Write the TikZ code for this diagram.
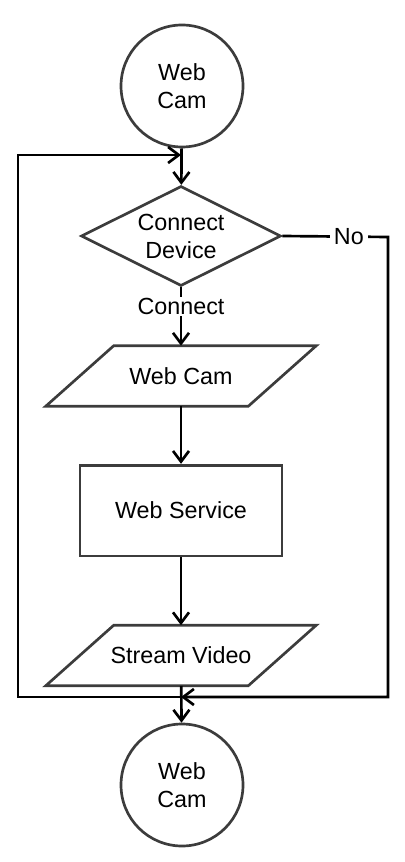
\documentclass[tikz,border=0pt]{standalone}
\usepackage{fontspec}
\setmainfont{Liberation Sans}
\usetikzlibrary{shapes.geometric, arrows.meta, positioning}
\definecolor{shapegray}{RGB}{60, 60, 60}

\begin{document}
\begin{tikzpicture}[x=0.75pt, y=-0.75pt,
  every node/.style={font=\fontsize{17.5}{21}\selectfont},
  terminal/.style={circle, draw=shapegray, line width=2pt, minimum size=91.5pt, inner sep=0pt, align=center},
  decision/.style={diamond, draw=shapegray, line width=2pt, minimum width=150pt, minimum height=75pt, inner sep=0pt, aspect=2, align=center},
  iobox/.style={rectangle, minimum width=151.5pt, minimum height=45pt, inner sep=0pt},
  ioline/.style={draw=shapegray, line width=2pt, line join=miter},
  process/.style={rectangle, draw=shapegray, line width=2pt, minimum width=151.5pt, minimum height=68pt},
  flow/.style={line width=2pt, -{Straight Barb[length=8pt, width=12pt, line width=2pt]}}]
  \useasboundingbox (0,0) rectangle (404,862);

  % Shapes
  \node[terminal] (camtop) at (182, 86) {Web\\Cam};
  \node[decision] (device) at (181, 236) {Connect\\Device};
  \node[iobox] (webcam) at (181, 376) {Web Cam};
  \node[process] (service) at (181, 510.5) {Web Service};
  \node[iobox] (stream) at (181, 655.5) {Stream Video};
  \node[terminal] (cambot) at (182, 785) {Web\\Cam};

  % Parallelogram outlines
  \foreach \io in {webcam, stream}
    \draw[ioline] ([xshift=25.5pt]\io.north west) -- ([xshift=25.5pt]\io.north east)
      -- ([xshift=-25.5pt]\io.south east) -- ([xshift=-25.5pt]\io.south west) -- cycle;

  % Loop points
  \coordinate (jointop) at (181, 155);
  \coordinate (joinbot) at (181, 697);
  \coordinate (noturn) at (388, 237);

  % Main flow
  \draw[flow] (camtop) -- (device);
  \draw[flow] (device) -- node[pos=0.33, fill=white, inner sep=1pt] (connectlbl) {Connect} (webcam);
  \draw[flow] (webcam) -- (service);
  \draw[flow] (service) -- (stream);
  \draw[flow] (stream) -- (cambot);

  % Retry loop
  \draw[flow] (joinbot) -| (18, 155) -- (jointop);
  \draw[flow] (device.east) -- node[pos=0.63, fill=white, inner sep=3pt] (nolbl) {No} (noturn) |- (joinbot);
\end{tikzpicture}
\end{document}
